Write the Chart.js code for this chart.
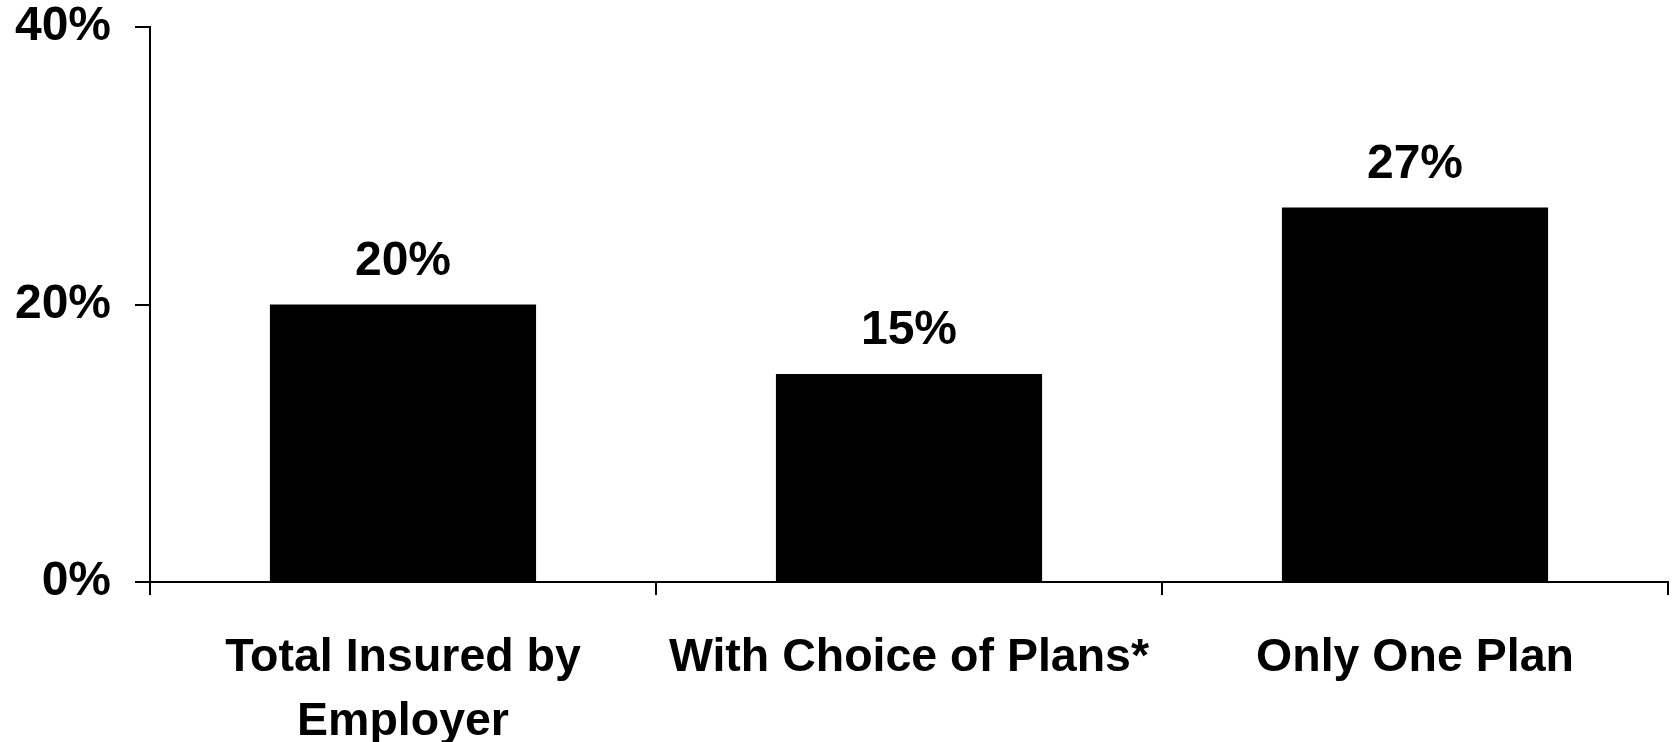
<!DOCTYPE html>
<html>
<head>
<meta charset="utf-8">
<script src="https://cdn.jsdelivr.net/npm/chart.js@4.4.1/dist/chart.umd.min.js"></script>
<style>
  html, body { margin: 0; padding: 0; background: #ffffff; }
  #wrap { width: 1676px; height: 742px; }
</style>
</head>
<body>
<div id="wrap"><canvas id="chart" width="1676" height="742"></canvas></div>
<script>
// Share of workers, by plan availability
const categories = [
  ['Total Insured by', 'Employer'],
  'With Choice of Plans*',
  'Only One Plan'
];
const shares = [20, 15, 27];
const yTicks = [0, 20, 40];

const FONT = '"Liberation Sans", Arial, Helvetica, sans-serif';

// Prints each bar's value above it
const valueLabels = {
  id: 'valueLabels',
  afterDatasetsDraw(chart) {
    const ctx = chart.ctx;
    const meta = chart.getDatasetMeta(0);
    ctx.save();
    ctx.fillStyle = '#000000';
    ctx.font = 'bold 48px ' + FONT;
    ctx.textAlign = 'center';
    ctx.textBaseline = 'middle';
    meta.data.forEach((bar, i) => {
      ctx.fillText(shares[i] + '%', bar.x, bar.y - 43);
    });
    ctx.restore();
  }
};

new Chart(document.getElementById('chart'), {
  type: 'bar',
  data: {
    labels: categories,
    datasets: [{
      data: shares,
      backgroundColor: '#000000',
      borderWidth: 0,
      categoryPercentage: 1.0,
      barPercentage: 0.526
    }]
  },
  options: {
    responsive: false,
    animation: false,
    devicePixelRatio: 1,
    layout: { padding: { top: 27, right: 8, left: 0, bottom: 0 } },
    plugins: {
      legend: { display: false },
      tooltip: { enabled: false }
    },
    scales: {
      x: {
        offset: true,
        grid: {
          offset: true,
          drawOnChartArea: false,
          drawTicks: true,
          tickLength: 13,
          color: '#000000',
          lineWidth: 2
        },
        border: { display: true, color: '#000000', width: 2 },
        ticks: {
          color: '#000000',
          padding: 32,
          maxRotation: 0,
          autoSkip: false,
          font: { family: FONT, size: 46.5, weight: 'bold', lineHeight: 1.36 }
        },
        afterFit(scale) {
          scale.height = 160;
          scale.paddingLeft = 0;
          scale.paddingRight = 0;
        }
      },
      y: {
        min: 0,
        max: 40,
        afterBuildTicks(scale) {
          scale.ticks = yTicks.map(v => ({ value: v }));
        },
        grid: {
          drawOnChartArea: false,
          drawTicks: true,
          tickLength: 15,
          color: '#000000',
          lineWidth: 2
        },
        border: { display: true, color: '#000000', width: 2 },
        ticks: {
          color: '#000000',
          padding: 24,
          callback: v => v + '%',
          font: { family: FONT, size: 48, weight: 'bold', lineHeight: 1.0 }
        },
        afterFit(scale) {
          scale.width = 150;
          scale.paddingTop = 0;
          scale.paddingBottom = 0;
        }
      }
    }
  },
  plugins: [valueLabels]
});
</script>
</body>
</html>
